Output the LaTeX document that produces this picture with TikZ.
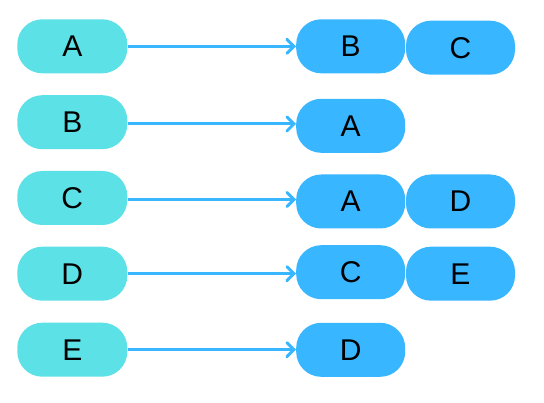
\documentclass[tikz,border=0pt]{standalone}
\usepackage{fontspec}
\setmainfont{Liberation Sans}
\usetikzlibrary{arrows.meta}
\definecolor{cyanfill}{HTML}{5CE1E6}
\definecolor{bluefill}{HTML}{38B6FF}
\tikzset{
  pill/.style={rectangle, rounded corners=25pt, minimum height=54pt, minimum width=110pt, inner sep=0pt, font=\fontsize{30}{30}\selectfont, text=black},
  leftpill/.style={pill, fill=cyanfill},
  rightpill/.style={pill, fill=bluefill, minimum width=109pt},
  conn/.style={draw=bluefill, line width=3pt, -{Straight Barb[length=7pt,width=14pt,line width=3pt,line cap=round]}}
}
\begin{document}
\begin{tikzpicture}[x=1pt,y=-1pt]
\useasboundingbox (0,0) rectangle (544,403);
% left column
\node[leftpill] (l1) at (72.3,46.3) {A};
\node[leftpill] (l2) at (72.3,122.2) {B};
\node[leftpill] (l3) at (72.3,198) {C};
\node[leftpill] (l4) at (72.3,273.7) {D};
\node[leftpill] (l5) at (72.3,349.7) {E};
% right column 1
\node[rightpill] (r1) at (350.7,46.3) {B};
\node[rightpill] (r2) at (350.7,125.8) {A};
\node[rightpill] (r3) at (350.7,201.5) {A};
\node[rightpill] (r4) at (350.7,272.2) {C};
\node[rightpill] (r5) at (350.7,349.8) {D};
% right column 2
\node[rightpill] (s1) at (460.5,47.7) {C};
\node[rightpill] (s3) at (460.5,201.5) {D};
\node[rightpill] (s4) at (460.5,273.7) {E};
% connectors
\draw[conn] (l1.east) -- (l1.east -| r1.west);
\draw[conn] ([yshift=-1.8pt]l2.east) -- ([yshift=-1.8pt]l2.east -| r2.west);
\draw[conn] ([yshift=-1.5pt]l3.east) -- ([yshift=-1.5pt]l3.east -| r3.west);
\draw[conn] (l4.east) -- (l4.east -| r4.west);
\draw[conn] (l5.east) -- (l5.east -| r5.west);
\end{tikzpicture}
\end{document}
